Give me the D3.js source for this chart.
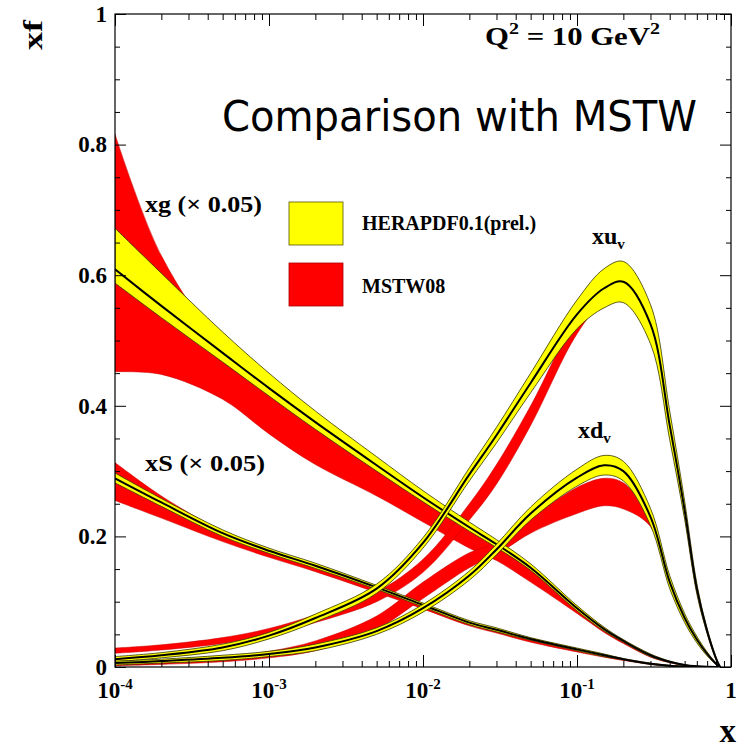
<!DOCTYPE html>
<html>
<head>
<meta charset="utf-8">
<script src="https://cdn.jsdelivr.net/npm/d3@7"></script>
<style>
  body { margin: 0; background: #fff; }
  text { font-family: "Liberation Serif", "Times New Roman", serif; font-weight: bold; }
</style>
</head>
<body>
<svg id="chart" width="738" height="748"></svg>
<script>
// x grid shared by all the pdf curves
const xGrid = [1e-4, 2e-4, 5e-4, 1e-3, 2e-3, 5e-3, 1e-2, 2e-2, 3e-2, 5e-2, 0.1, 0.15, 0.2, 0.3, 0.4, 0.5, 0.6, 0.7, 0.8, 0.85];

// xg (x 0.05)
const xgHera    = [0.609, 0.553, 0.481, 0.427, 0.375, 0.309, 0.26, 0.214, 0.188, 0.152, 0.09, 0.058, 0.04, 0.018, 0.008, 0.003, 0.001, 0.0002, 0, 0];
const xgHeraLo  = [0.588, 0.535, 0.467, 0.415, 0.364, 0.3, 0.253, 0.208, 0.183, 0.148, 0.086, 0.055, 0.038, 0.016, 0.007, 0.0025, 0.0008, 0.0002, 0, 0];
const xgHeraHi  = [0.672, 0.603, 0.513, 0.45, 0.392, 0.322, 0.27, 0.222, 0.195, 0.158, 0.094, 0.061, 0.042, 0.02, 0.009, 0.0035, 0.0012, 0.0003, 0, 0];
const xgMstwLo  = [0.452, 0.448, 0.41, 0.357, 0.31, 0.262, 0.222, 0.182, 0.163, 0.13, 0.082, 0.053, 0.036, 0.015, 0.0065, 0.0022, 0.0007, 0.0001, 0, 0];
const xgMstwHi  = [0.816, 0.63, 0.49, 0.427, 0.375, 0.309, 0.26, 0.214, 0.188, 0.152, 0.09, 0.058, 0.04, 0.018, 0.008, 0.003, 0.001, 0.0002, 0, 0];

// xS (x 0.05)
const xsHera    = [0.289, 0.252, 0.205, 0.178, 0.155, 0.122, 0.095, 0.068, 0.057, 0.043, 0.027, 0.018, 0.012, 0.005, 0.002, 0.0008, 0.0003, 0.0001, 0, 0];
const xsHeraLo  = [0.282, 0.246, 0.2, 0.174, 0.151, 0.119, 0.092, 0.065, 0.054, 0.041, 0.025, 0.016, 0.011, 0.004, 0.0015, 0.0008, 0.0003, 0.0001, 0, 0];
const xsHeraHi  = [0.297, 0.258, 0.21, 0.182, 0.159, 0.125, 0.098, 0.071, 0.06, 0.045, 0.029, 0.02, 0.013, 0.006, 0.0025, 0.0008, 0.0003, 0.0001, 0, 0];
const xsMstwLo  = [0.255, 0.228, 0.192, 0.168, 0.146, 0.114, 0.089, 0.063, 0.052, 0.038, 0.023, 0.015, 0.01, 0.004, 0.0015, 0.0006, 0.0002, 0.0001, 0, 0];
const xsMstwHi  = [0.313, 0.262, 0.208, 0.18, 0.157, 0.123, 0.096, 0.069, 0.058, 0.044, 0.028, 0.019, 0.012, 0.005, 0.002, 0.0008, 0.0003, 0.0001, 0, 0];

// xu_v
const xuHera    = [0.012, 0.018, 0.03, 0.048, 0.075, 0.12, 0.19, 0.295, 0.355, 0.435, 0.54, 0.58, 0.59, 0.525, 0.37, 0.24, 0.12, 0.055, 0.013, 0];
const xuHeraLo  = [0.008, 0.014, 0.025, 0.043, 0.069, 0.113, 0.182, 0.285, 0.343, 0.42, 0.518, 0.55, 0.558, 0.495, 0.348, 0.226, 0.112, 0.051, 0.011, 0];
const xuHeraHi  = [0.016, 0.022, 0.035, 0.053, 0.081, 0.127, 0.198, 0.305, 0.367, 0.45, 0.562, 0.61, 0.621, 0.555, 0.392, 0.254, 0.128, 0.059, 0.015, 0];
const xuMstwLo  = [0.021, 0.026, 0.036, 0.049, 0.068, 0.1, 0.145, 0.225, 0.28, 0.37, 0.51, 0.56, 0.565, 0.505, 0.355, 0.23, 0.114, 0.052, 0.012, 0];
const xuMstwHi  = [0.029, 0.034, 0.045, 0.059, 0.08, 0.115, 0.165, 0.25, 0.31, 0.4, 0.535, 0.578, 0.585, 0.525, 0.37, 0.24, 0.12, 0.055, 0.013, 0];

// xd_v
const xdHera    = [0.006, 0.009, 0.014, 0.02, 0.03, 0.055, 0.09, 0.14, 0.18, 0.235, 0.29, 0.309, 0.3, 0.23, 0.13, 0.075, 0.042, 0.02, 0.005, 0];
const xdHeraLo  = [0.003, 0.006, 0.01, 0.016, 0.025, 0.05, 0.084, 0.133, 0.172, 0.225, 0.277, 0.294, 0.285, 0.217, 0.12, 0.068, 0.037, 0.017, 0.004, 0];
const xdHeraHi  = [0.009, 0.012, 0.018, 0.024, 0.035, 0.06, 0.096, 0.147, 0.188, 0.245, 0.303, 0.324, 0.315, 0.243, 0.14, 0.082, 0.047, 0.023, 0.006, 0];
const xdMstwLo  = [0.002, 0.004, 0.008, 0.014, 0.025, 0.058, 0.105, 0.152, 0.172, 0.205, 0.235, 0.247, 0.242, 0.215, 0.125, 0.07, 0.04, 0.018, 0.004, 0];
const xdMstwHi  = [0.006, 0.009, 0.015, 0.024, 0.04, 0.078, 0.13, 0.175, 0.19, 0.228, 0.275, 0.289, 0.282, 0.225, 0.132, 0.075, 0.042, 0.02, 0.005, 0];

// ticks
const xMajor = [1e-4, 1e-3, 1e-2, 1e-1, 1];
const xMinor = [2, 3, 4, 5, 6, 7, 8, 9].flatMap(m => [1e-4, 1e-3, 1e-2, 1e-1].map(d => m * d));
const yMajor = [0, 0.2, 0.4, 0.6, 0.8, 1];
const yMinor = [0.05, 0.1, 0.15, 0.25, 0.3, 0.35, 0.45, 0.5, 0.55, 0.65, 0.7, 0.75, 0.85, 0.9, 0.95];

const svg = d3.select("#chart");
const x = d3.scaleLog().domain([1e-4, 1]).range([115, 731]);
const y = d3.scaleLinear().domain([0, 1]).range([667, 14]);

svg.append("clipPath").attr("id", "plot")
  .append("rect").attr("x", 115).attr("y", 14).attr("width", 616).attr("height", 653);

const smooth = d3.curveCatmullRom.alpha(0.5);
const area = (lo, hi) => d3.area()
  .x(d => x(d)).y0((d, i) => y(lo[i])).y1((d, i) => y(hi[i]))
  .curve(smooth)(xGrid);
const line = vals => d3.line()
  .x(d => x(d)).y((d, i) => y(vals[i]))
  .curve(smooth)(xGrid);

const g = svg.append("g").attr("clip-path", "url(#plot)");

// MSTW08 bands underneath
[[xgMstwLo, xgMstwHi], [xsMstwLo, xsMstwHi], [xuMstwLo, xuMstwHi], [xdMstwLo, xdMstwHi]].forEach(([lo, hi]) => {
  g.append("path").attr("d", area(lo, hi))
    .attr("fill", "#ff0000").attr("stroke", "#c00000").attr("stroke-width", 0.5);
});

// HERAPDF bands with central lines
[[xgHeraLo, xgHeraHi, xgHera], [xsHeraLo, xsHeraHi, xsHera], [xuHeraLo, xuHeraHi, xuHera], [xdHeraLo, xdHeraHi, xdHera]].forEach(([lo, hi, c]) => {
  g.append("path").attr("d", area(lo, hi))
    .attr("fill", "#ffff00").attr("stroke", "#333300").attr("stroke-width", 0.8);
  g.append("path").attr("d", line(c))
    .attr("fill", "none").attr("stroke", "#000").attr("stroke-width", 2);
});

// axes, ticks pointing inward on all four sides
function ax(axis, tx, ty) {
  const a = svg.append("g").attr("transform", `translate(${tx},${ty})`).call(axis);
  a.select(".domain").remove();
  a.selectAll("line").attr("stroke", "#000");
  a.attr("font-family", null).attr("font-size", null);
  return a;
}
ax(d3.axisBottom(x).tickValues(xMajor).tickSize(-12).tickFormat(""), 0, 667);
ax(d3.axisBottom(x).tickValues(xMinor).tickSize(-6).tickFormat(""), 0, 667);
ax(d3.axisTop(x).tickValues(xMajor).tickSize(-12).tickFormat(""), 0, 14);
ax(d3.axisTop(x).tickValues(xMinor).tickSize(-6).tickFormat(""), 0, 14);
const yl = ax(d3.axisLeft(y).tickValues(yMajor).tickSize(-11).tickPadding(8)
  .tickFormat(d => d === 0 ? "0" : d === 1 ? "1" : d3.format(".1f")(d)), 115, 0);
yl.selectAll("text").attr("font-size", 23).attr("fill", "#000");
ax(d3.axisLeft(y).tickValues(yMinor).tickSize(-5).tickFormat(""), 115, 0);
ax(d3.axisRight(y).tickValues(yMajor).tickSize(-11).tickFormat(""), 731, 0);
ax(d3.axisRight(y).tickValues(yMinor).tickSize(-5).tickFormat(""), 731, 0);

svg.append("rect").attr("x", 115).attr("y", 14).attr("width", 616).attr("height", 653)
  .attr("fill", "none").attr("stroke", "#000").attr("stroke-width", 1.2);

// x tick labels as powers of ten
xMajor.forEach(v => {
  const t = svg.append("text").attr("x", x(v)).attr("y", 698)
    .attr("text-anchor", "middle").attr("font-size", 23);
  const e = Math.round(Math.log10(v));
  if (e === 0) { t.text("1"); return; }
  t.append("tspan").text("10");
  t.append("tspan").attr("dy", -9).attr("font-size", 15).text(e);
});

// axis titles
svg.append("text").attr("transform", "translate(42,50) rotate(-90)")
  .attr("font-size", 28).attr("textLength", 30).attr("lengthAdjust", "spacingAndGlyphs").text("xf");
svg.append("text").attr("x", 736).attr("y", 742).attr("text-anchor", "end")
  .attr("font-size", 33).text("x");

// Q2 label
const q = svg.append("text").attr("x", 485).attr("y", 45).attr("font-size", 26)
  .attr("textLength", 175).attr("lengthAdjust", "spacingAndGlyphs");
q.append("tspan").text("Q");
q.append("tspan").attr("dy", -11).attr("font-size", 17).text("2");
q.append("tspan").attr("dy", 11).text(" = 10 GeV");
q.append("tspan").attr("dy", -11).attr("font-size", 17).text("2");

svg.append("text").attr("x", 222).attr("y", 131)
  .style("font-family", "'Comic Sans MS', 'DejaVu Sans', sans-serif")
  .style("font-weight", "normal")
  .attr("font-size", 42).attr("textLength", 475).attr("lengthAdjust", "spacingAndGlyphs")
  .text("Comparison with MSTW");

// curve labels
svg.append("text").attr("x", 145).attr("y", 212).attr("font-size", 23)
  .attr("textLength", 117).attr("lengthAdjust", "spacingAndGlyphs").text("xg (\u00d7 0.05)");
svg.append("text").attr("x", 145).attr("y", 471).attr("font-size", 23)
  .attr("textLength", 120).attr("lengthAdjust", "spacingAndGlyphs").text("xS (\u00d7 0.05)");
const lu = svg.append("text").attr("x", 592).attr("y", 244).attr("font-size", 24);
lu.append("tspan").text("xu");
lu.append("tspan").attr("dy", 5).attr("font-size", 15).text("v");
const ld = svg.append("text").attr("x", 578).attr("y", 438).attr("font-size", 24);
ld.append("tspan").text("xd");
ld.append("tspan").attr("dy", 5).attr("font-size", 15).text("v");

// legend
const legend = [["HERAPDF0.1(prel.)", "#ffff00", "#555500"], ["MSTW08", "#ff0000", "#aa0000"]];
legend.forEach(([label, fill, stroke], i) => {
  svg.append("rect").attr("x", 289).attr("y", 202 + i * 61).attr("width", 54).attr("height", 43)
    .attr("fill", fill).attr("stroke", stroke).attr("stroke-width", 0.8);
  svg.append("text").attr("x", 362).attr("y", 230 + i * 63).attr("font-size", 20).text(label);
});
</script>
</body>
</html>
